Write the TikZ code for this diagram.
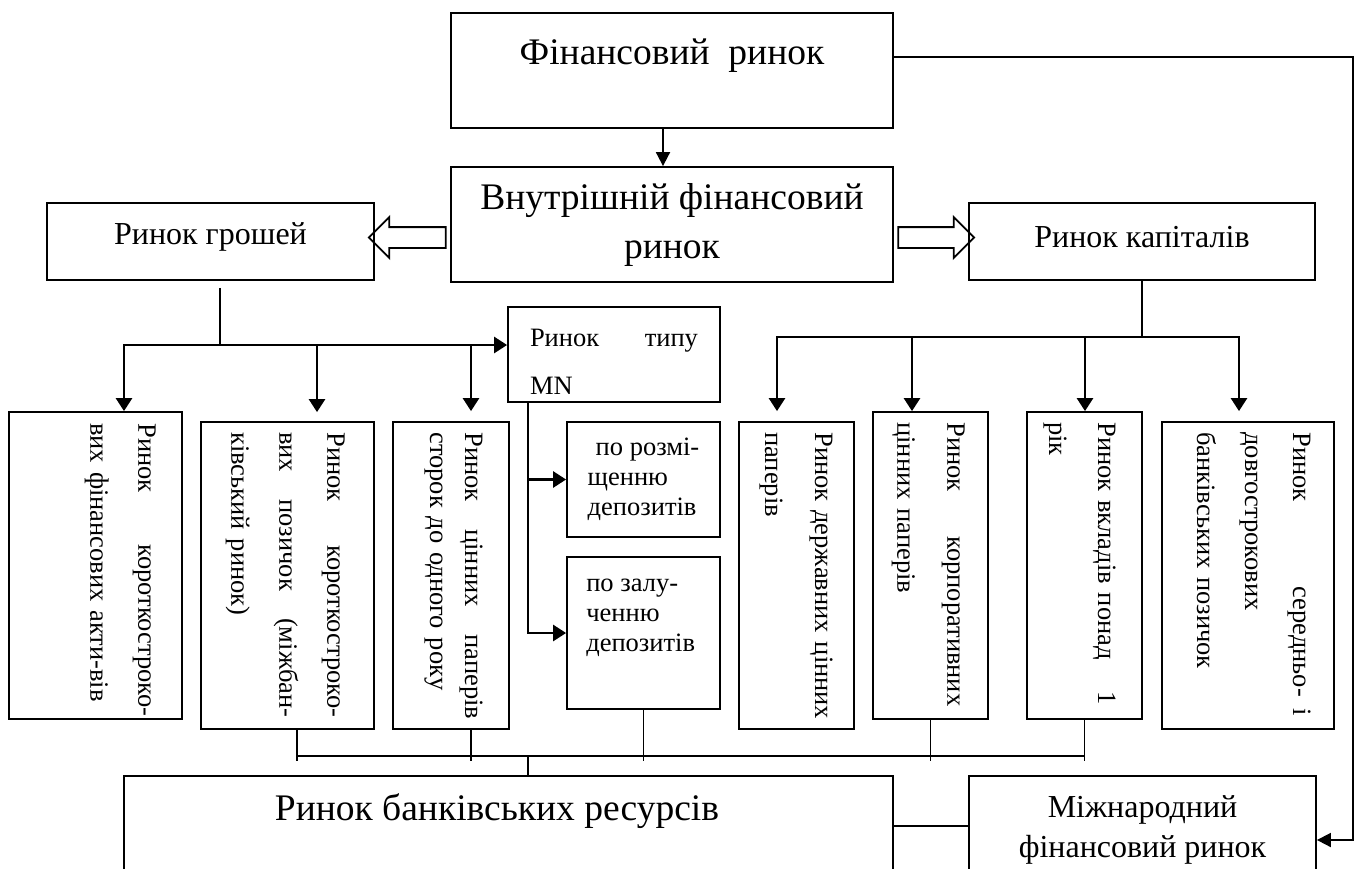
\documentclass[tikz,border=0pt]{standalone}
\usepackage{fontspec}
\setmainfont{Liberation Serif}
\usetikzlibrary{arrows.meta,calc,positioning,shapes.arrows}

\begin{document}
\begin{tikzpicture}[
    x=1pt, y=-1pt,
    box/.style={draw, line width=1.8pt, inner sep=0pt, align=center},
    tall/.style={box, minimum height=307pt},
    big/.style={font=\fontsize{37.5}{49}\selectfont},
    mid/.style={font=\fontsize{32}{40}\selectfont},
    small/.style={font=\fontsize{26.5}{30}\selectfont},
    vtext/.style={rotate=-90, anchor=north west, inner sep=0pt, align=left,
      text width=285pt, font=\fontsize{26.5}{48}\selectfont},
    link/.style={line width=1.6pt},
    arrow/.style={-{Triangle[length=13pt,width=16pt]}, line width=2.6pt},
    thinarrow/.style={-{Triangle[length=14pt,width=14pt]}, line width=1.8pt},
    wide/.style={single arrow, draw, line width=1.8pt, inner xsep=0pt, inner ysep=9.5pt,
      single arrow head extend=10pt, single arrow tip angle=90}
  ]
  \useasboundingbox (0,0) rectangle (1358,868);
  \clip (0,0) rectangle (1358,868);

  \node[box, minimum width=442pt, minimum height=115pt] (fin) at (672,70.5) {};
  \node[big] (finT) at ([yshift=14.5pt]fin.center) {Фінансовий\ \ ринок};
  \node[box, big, minimum width=442pt, minimum height=115pt] (vnutr) at (672,224.5) {Внутрішній фінансовий\\ринок};
  \node[box, minimum width=327pt, minimum height=77pt] (groshi) at (210.5,241.5) {};
  \node[mid] (groshiT) at ([yshift=4.5pt]groshi.center) {Ринок грошей};
  \node[box, minimum width=346pt, minimum height=77pt] (kapital) at (1142,241.5) {};
  \node[mid] (kapitalT) at ([yshift=4.5pt]kapital.center) {Ринок капіталів};
  \node[wide, shape border rotate=180, minimum height=77pt] (toGroshi) at ([yshift=-4.5pt]$(groshi.east)!.5!(vnutr.west)$) {};
  \node[wide, minimum height=76pt] (toKapital) at ([yshift=-4.5pt]$(vnutr.east)!.5!(kapital.west)$) {};

  \node[box, minimum width=212pt, minimum height=95pt] (mn) at (614,354.5) {};
  \node[text width=168pt, align=left, inner sep=0pt,
    font=\fontsize{26.5}{48}\selectfont] (mnT) at ([yshift=-7pt]mn.center) {Ринок\hfill типу\\MN};
  \node[box, small, minimum width=153pt, minimum height=115pt, align=left] (rozm) at (643.5,479.5) {\hspace*{8pt}по розмі-\\щенню\\депозитів};
  \node[box, minimum width=153pt, minimum height=152pt] (zal) at (643.5,633) {};
  \node[small, anchor=north west, align=left, inner sep=0pt] (zalT) at ([xshift=20pt,yshift=-23pt]zal.north west) {по залу-\\ченню\\депозитів};

  \node[tall, minimum width=173pt] (a1) at (95.5,565.5) {};
  \node[vtext, text width=293pt] (a1T) at ([xshift=-27pt,yshift=-12pt]a1.north east) {Ринок\hfill короткостроко-\\вих фінансових акти-вів};
  \node[tall, minimum width=173pt] (a2) at (287.5,575.5) {};
  \node[vtext] (a2T) at ([xshift=-30pt,yshift=-11pt]a2.north east) {Ринок\hfill короткостроко-\\вих\hfill позичок\hfill (міжбан-\\ківський ринок)};
  \node[tall, minimum width=116pt] (a3) at (451,575.5) {};
  \node[vtext, text width=287pt, font=\fontsize{26.5}{35}\selectfont] (a3T) at ([xshift=-27pt,yshift=-11pt]a3.north east) {Ринок\hfill цінних\hfill паперів\\сторок до одного року};

  \node[tall, minimum width=115pt] (b1) at (796.5,575.5) {};
  \node[vtext, text width=300pt, font=\fontsize{26.5}{50}\selectfont] (b1T) at ([xshift=-22pt,yshift=-11pt]b1.north east) {Ринок державних цінних\\паперів};
  \node[tall, minimum width=115pt] (b2) at (930.5,565.5) {};
  \node[vtext, text width=284pt, font=\fontsize{26.5}{50}\selectfont] (b2T) at ([xshift=-24pt,yshift=-11pt]b2.north east) {Ринок\hfill корпоративних\\цінних паперів};
  \node[tall, minimum width=115pt] (b3) at (1084.5,565.5) {};
  \node[vtext, text width=282pt, font=\fontsize{26.5}{49}\selectfont] (b3T) at ([xshift=-27pt,yshift=-11pt]b3.north east) {Ринок вкладів понад\hfill 1\\рік};
  \node[tall, minimum width=172pt] (b4) at (1248,575.5) {};
  \node[vtext, text width=284pt] (b4T) at ([xshift=-24pt,yshift=-11pt]b4.north east) {Ринок\hfill середньо-\hspace{12pt}і\\довгострокових\\банківських позичок};

  \node[box, minimum width=769pt, minimum height=100pt] (bank) at (508.5,826) {};
  \node[big] (bankT) at ([xshift=-11.5pt,yshift=15pt]bank.center) {Ринок банківських ресурсів};
  \node[box, mid, minimum width=347pt, minimum height=108pt] (intl) at (1142.5,830) {Міжнародний\\фінансовий ринок};

  \coordinate (rt) at (1353,840);
  \draw[thinarrow] ([xshift=-9pt]fin.south) -- ([xshift=-9pt]vnutr.north);
  \draw[thinarrow] ([yshift=13.5pt]fin.east) -| (rt) -- ([yshift=-10pt]intl.east);

  \coordinate (gM) at (220,345);
  \draw[link] ([xshift=9.5pt,yshift=-7pt]groshi.south) -- (gM);
  \draw[arrow] (gM) -| (124,0 |- a1.north);
  \draw[arrow] (gM) -- (gM -| mn.west);
  \foreach \x/\b/\g in {317/a2/9, 471/a3/10}
    \draw[arrow, shorten >=\g pt] (\x,345) -- (\x,0 |- \b.north);

  \coordinate (kM) at (kapital.south |- 0,337);
  \draw[link] (kapital.south) -- (kM);
  \draw[arrow, shorten >=10pt] (kM) -| (777,0 |- b1.north);
  \draw[arrow, shorten >=10pt] (kM) -| (1239,0 |- b4.north);
  \foreach \x/\b in {912/b2, 1085/b3}
    \draw[arrow] (\x,337) -- (\x,0 |- \b.north);

  \draw[arrow] ([xshift=-86pt]mn.south) |- (zal.west);
  \draw[arrow] (528,0 |- rozm.west) -- (rozm.west);

  \draw[link] (297,756) -- (1085,756);
  \foreach \x/\b in {297/a2, 471/a3, 643.5/zal, 930.5/b2, 1084.5/b3}
    \draw[link] (\x,0 |- \b.south) -- (\x,761);
  \draw[link] (528,756) -- (528,0 |- bank.north);
  \draw[link] (bank.east) -- (bank.east -| intl.west);
\end{tikzpicture}
\end{document}
